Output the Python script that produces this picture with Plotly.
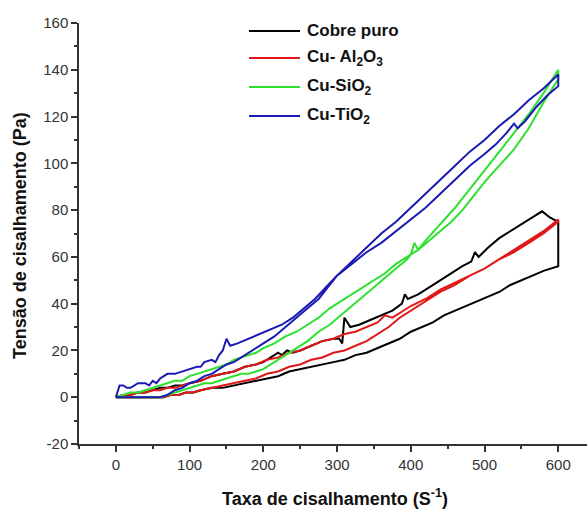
import plotly.graph_objects as go

# ---------------- data ----------------
# Cobre puro
cobre_up_x = [0,10,20,30,40,50,60,70,80,90,100,115,130,145,160,175,190,200,210,220,225,232,240,250,265,280,295,303,307,310,318,330,345,360,375,388,392,396,410,425,440,455,470,482,487,492,505,520,535,550,565,578,588,600]
cobre_up_y = [0,1,1,2,2,3,4,4,5,5,6,7,9,10,11,13,14,15,17,19,18,20,19,20,22,24,25,25,23,34,30,31,33,35,37,40,44,42,44,47,50,53,56,58,62,60,64,68,71,74,77,79.5,77,75]
cobre_dn_x = [0,65,75,85,95,105,115,130,145,160,175,190,205,220,235,250,265,280,295,310,325,340,355,370,385,400,415,430,445,460,475,490,505,520,535,550,565,580,590,600]
cobre_dn_y = [0,0,1,1,2,2,3,4,4,5,6,7,8,9,11,12,13,14,15,16,18,19,21,23,25,28,30,32,35,37,39,41,43,45,48,50,52,54,55,56]

# Cu-Al2O3
al_up_x = [0,10,20,30,40,50,60,70,80,90,100,115,130,145,160,175,190,205,220,235,250,265,280,295,310,325,340,355,365,375,385,400,420,440,460,480,500,520,540,560,580,600]
al_up_y = [0,1,1,2,2,3,3,4,4,5,6,7,9,10,11,13,14,16,17,19,20,22,24,25,27,28,30,32,35,34,36,39,42,46,49,52,55,59,62,66,70,75]
al_dn_x = [0,65,75,85,95,105,115,130,145,160,175,190,205,220,235,250,265,280,295,310,325,340,355,370,385,400,420,440,460,480,500,520,540,560,580,600]
al_dn_y = [0,0,1,1,2,2,3,4,5,6,7,8,10,11,13,14,16,17,19,20,22,24,27,30,34,37,41,45,48,52,55,59,63,67,71,76]

# Cu-SiO2
si_up_x = [0,10,20,30,40,50,60,70,80,90,100,110,120,130,140,150,160,170,180,190,200,215,230,245,260,275,290,305,320,335,350,365,380,395,410,425,440,455,470,485,500,520,540,560,580,600]
si_up_y = [0,1,2,2,3,4,5,6,7,7,9,10,11,12,13,14,16,17,18,19,21,23,26,28,31,34,38,41,44,47,50,53,57,60,63,67,71,75,80,86,92,99,106,115,126,136]
si_dn_x = [0,60,70,80,90,100,110,120,130,140,150,160,170,180,190,200,215,230,245,260,275,290,305,320,335,350,365,380,395,400,405,410,420,440,460,480,500,520,540,560,580,600]
si_dn_y = [0,0,1,2,3,4,5,6,6,7,8,9,10,10,11,12,15,18,21,24,28,31,35,39,43,47,51,55,59,61,66,63,67,74,81,89,97,105,113,121,130,140]

# Cu-TiO2
ti_up_x = [0,5,10,15,20,25,30,35,40,45,50,55,60,65,70,80,90,100,110,115,120,130,135,140,145,150,155,165,180,195,210,225,240,255,270,285,300,320,340,360,380,400,420,440,460,480,500,515,530,540,545,555,570,585,600]
ti_up_y = [0,5,5,4,4,5,6,6,6,5,7,6,8,9,10,10,11,12,13,13,15,16,15,18,20,25,22,23,25,27,29,31,34,38,42,47,52,57,62,66,71,76,81,87,93,99,104,108,113,117,115,118,124,129,133]
ti_dn_x = [0,60,70,80,90,100,110,120,130,140,150,160,170,180,190,200,215,230,245,260,275,290,300,320,340,360,380,400,420,440,460,480,500,520,540,560,580,600]
ti_dn_y = [0,0,1,3,4,6,7,9,10,12,14,15,17,19,21,23,26,30,34,38,42,48,52,58,64,70,75,81,87,93,99,105,110,116,121,127,132,138]

names = ["Cobre puro", "Cu- Al<sub>2</sub>O<sub>3</sub>", "Cu-SiO<sub>2</sub>", "Cu-TiO<sub>2</sub>"]
colors = ["#000000", "#e01818", "#2ee02e", "#1a1ab4"]
series = [
    (cobre_up_x, cobre_up_y, cobre_dn_x, cobre_dn_y),
    (al_up_x, al_up_y, al_dn_x, al_dn_y),
    (si_up_x, si_up_y, si_dn_x, si_dn_y),
    (ti_up_x, ti_up_y, ti_dn_x, ti_dn_y),
]

x_tick_vals = [0, 100, 200, 300, 400, 500, 600]
y_tick_vals = [-20, 0, 20, 40, 60, 80, 100, 120, 140, 160]
y_tick_text = ["-20", "0", "20", "40", "60", "80", "100", "120", "140", "160"]

FONT = "Arial, 'Liberation Sans', sans-serif"

fig = go.Figure()
for (ux, uy, dx, dy), name, col in zip(series, names, colors):
    xs = list(ux) + list(reversed(dx))
    ys = list(uy) + list(reversed(dy))
    fig.add_trace(go.Scatter(x=xs, y=ys, mode="lines", name=name,
                             line=dict(color=col, width=2), showlegend=False))

# ---- manual legend (layout elements in paper coordinates) ----
W, H = 587, 511
L, R, T, B = 79, 0, 23, 67
pw, ph = W - L - R, H - T - B

def px2paper(px, py):
    return (px - L) / pw, (H - B - py) / ph

legend_rows = [31, 58, 87, 116]
for name, col, py in zip(names, colors, legend_rows):
    x0, y0 = px2paper(249, py)
    x1, _ = px2paper(300, py)
    fig.add_shape(type="line", xref="paper", yref="paper", x0=x0, x1=x1, y0=y0, y1=y0,
                  line=dict(color=col, width=2))
    tx, ty = px2paper(305, py)
    fig.add_annotation(xref="paper", yref="paper", x=tx, y=ty, text="<b>%s</b>" % name,
                       showarrow=False, xanchor="left", yanchor="middle",
                       font=dict(family=FONT, size=17, color="#111111"))

# axis titles
xt, yt = px2paper(335, 497)
fig.add_annotation(xref="paper", yref="paper", x=xt, y=yt,
                   text="<b>Taxa de cisalhamento (S<sup>-1</sup>)</b>", showarrow=False,
                   xanchor="center", yanchor="middle",
                   font=dict(family=FONT, size=18, color="#111111"))
xt2, yt2 = px2paper(20, 236)
fig.add_annotation(xref="paper", yref="paper", x=xt2, y=yt2,
                   text="<b>Tensão de cisalhamento (Pa)</b>", showarrow=False, textangle=-90,
                   xanchor="center", yanchor="middle",
                   font=dict(family=FONT, size=18, color="#111111"))

axis_common = dict(showgrid=False, zeroline=False, showline=True, linecolor="#333333",
                   linewidth=1.5, ticks="outside", ticklen=6, tickwidth=1.5, tickcolor="#333333",
                   tickfont=dict(family=FONT, size=15, color="#333333"),
                   minor=dict(ticks="outside", ticklen=3, tickwidth=1.5, tickcolor="#333333"))

fig.update_xaxes(range=[-50, 639], tickmode="array", tickvals=x_tick_vals,
                 minor_tick0=0, minor_dtick=50, **axis_common)
fig.update_yaxes(range=[-20, 160], tickmode="array", tickvals=y_tick_vals, ticktext=y_tick_text,
                 minor_tick0=0, minor_dtick=10, **axis_common)

fig.update_layout(width=W, height=H, margin=dict(l=L, r=R, t=T, b=B, autoexpand=False),
                  plot_bgcolor="white", paper_bgcolor="white", showlegend=False)

fig.write_html("out.html")
